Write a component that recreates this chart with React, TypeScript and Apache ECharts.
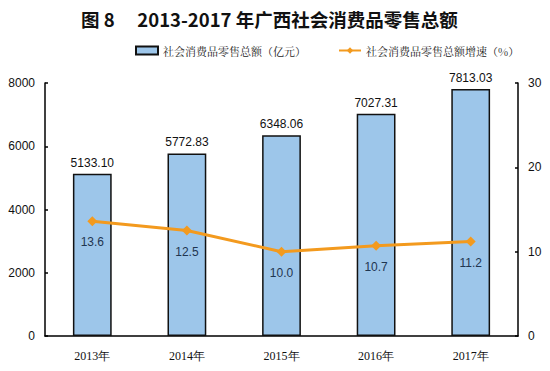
import React, { useEffect, useRef } from "react";
import * as echarts from "echarts";

const years = ["2013年", "2014年", "2015年", "2016年", "2017年"];
const retailSales = [5133.1, 5772.83, 6348.06, 7027.31, 7813.03];
const growthRate = [13.6, 12.5, 10.0, 10.7, 11.2];
const salesName = "社会消费品零售总额（亿元）";
const growthName = "社会消费品零售总额增速（%）";

export default function App() {
  const ref = useRef<HTMLDivElement>(null);
  useEffect(() => {
    const chart = echarts.init(ref.current!, null, { renderer: "svg" });
    chart.setOption({
      animation: false,
      backgroundColor: "#fff",
      title: {
        text: "图 8　 2013-2017 年广西社会消费品零售总额",
        left: 76,
        top: 5,
        textStyle: {
          fontFamily: "Noto Sans CJK SC",
          fontWeight: "bold",
          fontSize: 18.5,
          color: "#111",
        },
      },
      legend: {
        top: 40,
        left: 130,
        itemGap: 32,
        itemWidth: 22,
        itemHeight: 8,
        textStyle: { fontFamily: "Noto Serif CJK SC, Noto Sans CJK SC", fontSize: 11, color: "#222" },
        data: [
          { name: salesName, icon: "rect" },
          { name: growthName },
        ],
      },
      grid: { left: 45, right: 32, top: 83, bottom: 35 },
      xAxis: {
        type: "category",
        data: years,
        axisLine: { lineStyle: { color: "#000", width: 1.5 } },
        axisTick: { show: false },
        axisLabel: {
          fontFamily: "Liberation Serif",
          fontSize: 12,
          color: "#111",
          margin: 14,
        },
      },
      yAxis: [
        {
          type: "value",
          min: 0,
          max: 8000,
          interval: 2000,
          splitLine: { show: false },
          axisLine: { show: true, lineStyle: { color: "#000", width: 1.5 } },
          axisTick: { show: true, inside: true, length: 3, lineStyle: { color: "#000", width: 1.5 } },
          axisLabel: {
            fontFamily: "Liberation Sans",
            fontSize: 12,
            color: "#111",
            margin: 10,
            formatter: (v: number) => String(v),
          },
        },
        {
          type: "value",
          min: 0,
          max: 30,
          interval: 10,
          splitLine: { show: false },
          axisLine: { show: true, lineStyle: { color: "#000", width: 1.5 } },
          axisTick: { show: true, inside: true, length: 3, lineStyle: { color: "#000", width: 1.5 } },
          axisLabel: { fontFamily: "Liberation Sans", fontSize: 12, color: "#111", margin: 10 },
        },
      ],
      series: [
        {
          name: salesName,
          type: "bar",
          data: retailSales,
          barWidth: "41%",
          itemStyle: { color: "#9DC6EA", borderColor: "#111", borderWidth: 1.5 },
          label: {
            show: true,
            position: "top",
            fontFamily: "Liberation Sans",
            fontSize: 12,
            color: "#111",
            formatter: (p: any) => p.value.toFixed(2),
          },
        },
        {
          name: growthName,
          type: "line",
          yAxisIndex: 1,
          data: growthRate,
          symbol: "diamond",
          symbolSize: 10,
          itemStyle: { color: "#F39A1E" },
          lineStyle: { color: "#F39A1E", width: 3 },
          label: {
            show: true,
            position: "bottom",
            distance: 10,
            fontFamily: "Liberation Sans",
            fontSize: 12,
            color: "#1F3550",
            formatter: (p: any) => p.value.toFixed(1),
          },
        },
      ],
    });
    return () => chart.dispose();
  }, []);
  return <div ref={ref} style={{ width: 550, height: 371, position: "absolute", left: 0, top: 0 }} />;
}
